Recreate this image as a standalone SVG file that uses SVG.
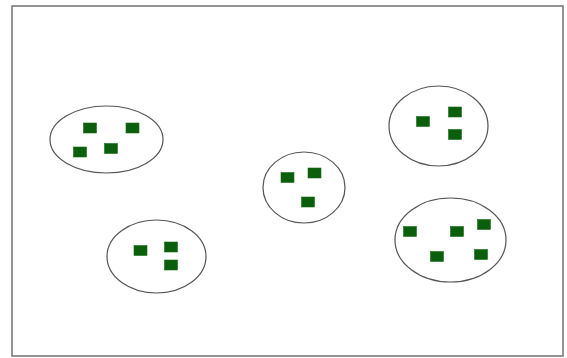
<svg xmlns="http://www.w3.org/2000/svg" width="567" height="358" viewBox="0 0 567 358">
<style>
.frame{fill:#fff;stroke:#7a7a7a;stroke-width:1.6}
.cl{fill:#fff;stroke:#555;stroke-width:1.2}
.pt{fill:#0b5e0b;stroke:#1a6b1a;stroke-width:0.6}
</style>
<rect x="0" y="0" width="567" height="358" fill="#fff"/>
<rect class="frame" x="12" y="6" width="551" height="350"/>
<g id="cluster1">
<ellipse class="cl" cx="106.5" cy="139.5" rx="56.5" ry="33.5"/>
<rect class="pt" x="83.5" y="123" width="13" height="10"/>
<rect class="pt" x="126" y="123" width="13" height="10"/>
<rect class="pt" x="73.5" y="147" width="13" height="10"/>
<rect class="pt" x="104.5" y="143.5" width="13" height="10"/>
</g>
<g id="cluster2">
<ellipse class="cl" cx="438.5" cy="126" rx="49.5" ry="40"/>
<rect class="pt" x="416.5" y="116.5" width="13" height="10"/>
<rect class="pt" x="448.5" y="107" width="13" height="10"/>
<rect class="pt" x="448.5" y="129.5" width="13" height="10"/>
</g>
<g id="cluster3">
<ellipse class="cl" cx="156.5" cy="256.5" rx="49.5" ry="36.5"/>
<rect class="pt" x="134" y="245.5" width="13" height="10"/>
<rect class="pt" x="164.5" y="242" width="13" height="10"/>
<rect class="pt" x="164.5" y="260" width="13" height="10"/>
</g>
<g id="cluster4">
<ellipse class="cl" cx="304" cy="187.5" rx="41" ry="35.5"/>
<rect class="pt" x="281" y="172.5" width="13" height="10"/>
<rect class="pt" x="308" y="168" width="13" height="10"/>
<rect class="pt" x="301.5" y="197" width="13" height="10"/>
</g>
<g id="cluster5">
<ellipse class="cl" cx="450.5" cy="240" rx="55.5" ry="42"/>
<rect class="pt" x="403.5" y="226.5" width="13" height="10"/>
<rect class="pt" x="450.5" y="226.5" width="13" height="10"/>
<rect class="pt" x="477.5" y="219.5" width="13" height="10"/>
<rect class="pt" x="430.5" y="251.5" width="13" height="10"/>
<rect class="pt" x="474.5" y="249.5" width="13" height="10"/>
</g>
<g id="connectors"></g>
</svg>
